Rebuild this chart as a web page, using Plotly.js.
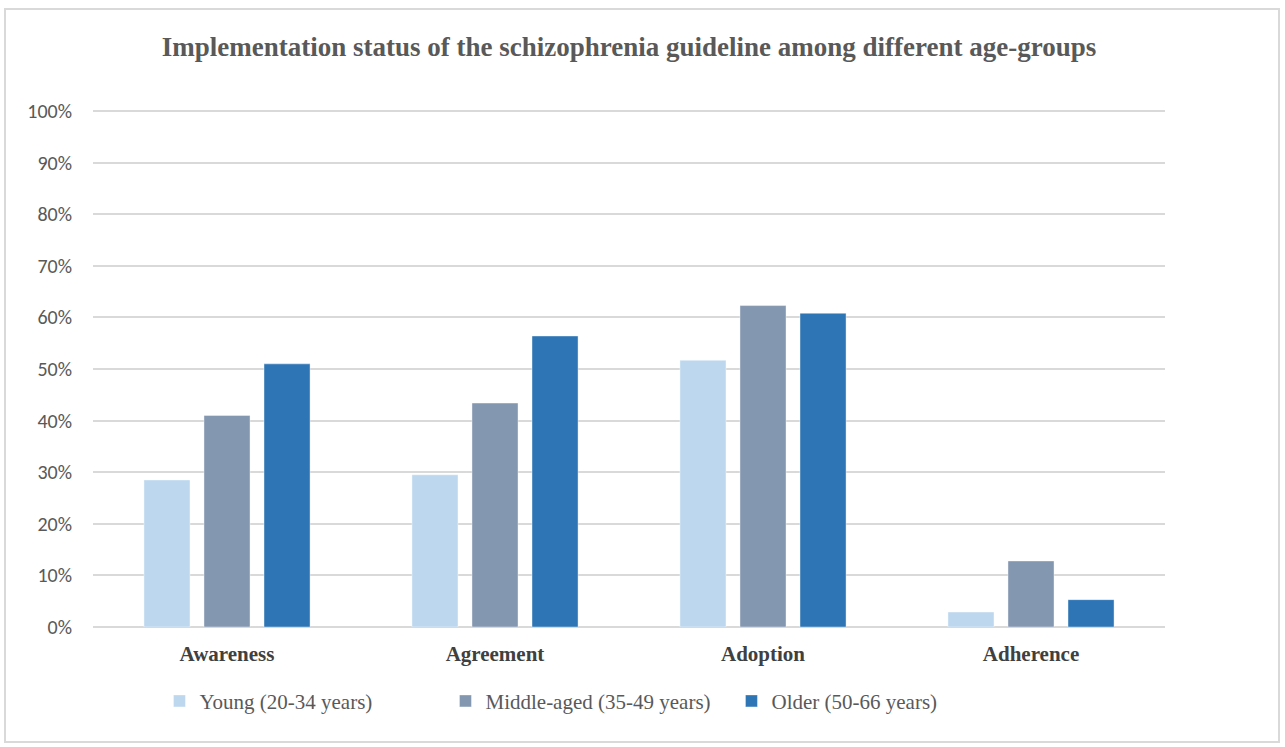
<!DOCTYPE html>
<html>
<head>
<meta charset="utf-8">
<script src="https://cdn.plot.ly/plotly-3.0.1.min.js"></script>
<style>
html,body{margin:0;padding:0;background:#fff;}
#frame{position:absolute;left:4px;top:8px;width:1276px;height:735px;border:2px solid #d9d9d9;box-sizing:border-box;}
#chart{position:absolute;left:0;top:0;width:1285px;height:747px;}
</style>
</head>
<body>
<div id="frame"></div>
<div id="chart"></div>
<script>
var categories = ["Awareness", "Agreement", "Adoption", "Adherence"];
var young = [0.285, 0.295, 0.517, 0.029];
var middleAged = [0.410, 0.434, 0.623, 0.128];
var older = [0.510, 0.564, 0.608, 0.053];
var seriesNames = ["Young (20-34 years)", "Middle-aged (35-49 years)", "Older (50-66 years)"];
var seriesColors = ["#BDD7EE", "#8497B0", "#2E75B6"];
var yTickVals = [0, 0.1, 0.2, 0.3, 0.4, 0.5, 0.6, 0.7, 0.8, 0.9, 1.0];
var yTickText = ["0%", "10%", "20%", "30%", "40%", "50%", "60%", "70%", "80%", "90%", "100%"];

var allSeries = [young, middleAged, older];
var data = allSeries.map(function (vals, i) {
  return {
    type: "bar",
    x: categories,
    y: vals,
    name: seriesNames[i],
    marker: { color: seriesColors[i], line: { color: "rgba(255,255,255,0.5)", width: 0.8 } },
    hoverinfo: "x+y+name"
  };
});

var layout = {
  width: 1285,
  height: 747,
  paper_bgcolor: "rgba(0,0,0,0)",
  plot_bgcolor: "rgba(0,0,0,0)",
  margin: { l: 93, r: 120, t: 110, b: 120 },
  title: {
    text: "<b>Implementation status of the schizophrenia guideline among different age-groups</b>",
    font: { family: "Liberation Serif, Times New Roman, serif", size: 27, color: "#595959" },
    x: 0.5, xref: "paper", xanchor: "center",
    y: 0.938, yref: "container", yanchor: "middle"
  },
  barmode: "group",
  bargap: 0.328,
  bargroupgap: 0.233,
  xaxis: {
    type: "category",
    tickvals: categories,
    ticktext: categories.map(function (c) { return "<b>" + c + "</b>"; }),
    tickfont: { family: "Liberation Serif, Times New Roman, serif", size: 21, color: "#404040" },
    showgrid: false,
    zeroline: false,
    showline: false,
    ticks: "",
    ticklen: 0,
    ticklabelstandoff: 12
  },
  yaxis: {
    range: [0, 1.002],
    tickvals: yTickVals,
    ticktext: yTickText,
    tickfont: { family: "Carlito, Liberation Sans, Arial, sans-serif", size: 20, color: "#595959" },
    gridcolor: "#d9d9d9",
    gridwidth: 1.6,
    zeroline: true,
    zerolinecolor: "#d9d9d9",
    zerolinewidth: 1.6,
    showline: false,
    ticks: "",
    ticklabelstandoff: 20
  },
  legend: {
    orientation: "h",
    x: 0.062, xanchor: "left",
    y: -0.104, yanchor: "top",
    font: { family: "Liberation Serif, Times New Roman, serif", size: 21, color: "#595959" },
    itemwidth: 30,
    traceorder: "normal",
    entrywidth: 241
  },
  showlegend: true
};

Plotly.newPlot("chart", data, layout, { displayModeBar: false });
</script>
</body>
</html>
